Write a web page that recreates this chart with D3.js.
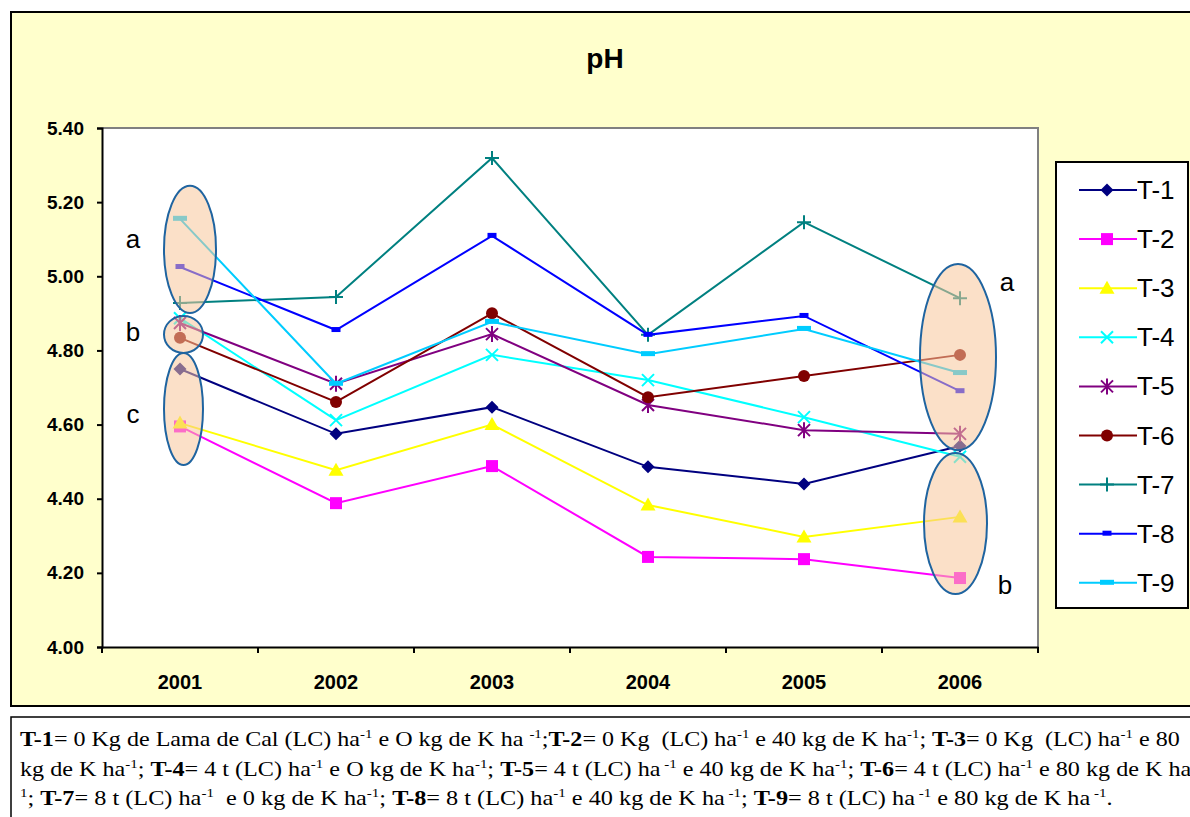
<!DOCTYPE html>
<html>
<head>
<meta charset="utf-8">
<script src="https://cdn.jsdelivr.net/npm/d3@7"></script>
<style>
  html, body { margin: 0; padding: 0; background: #ffffff; }
  svg { display: block; }
  text { white-space: pre; }
</style>
</head>
<body>
<svg id="chart" width="1190" height="817"></svg>
<script>
// Years on the category axis
const years = ["2001", "2002", "2003", "2004", "2005", "2006"];

// pH per treatment
const t1 = [4.75, 4.575, 4.647, 4.486, 4.44, 4.542];
const t2 = [4.595, 4.388, 4.488, 4.243, 4.237, 4.186];
const t3 = [4.604, 4.477, 4.60, 4.383, 4.297, 4.351];
const t4 = [4.887, 4.612, 4.788, 4.72, 4.62, 4.513];
const t5 = [4.874, 4.71, 4.844, 4.653, 4.585, 4.575];
const t6 = [4.834, 4.661, 4.90, 4.674, 4.731, 4.788];
const t7 = [4.928, 4.944, 5.319, 4.842, 5.146, 4.941];
const t8 = [5.025, 4.855, 5.109, 4.842, 4.893, 4.69];
const t9 = [5.155, 4.71, 4.877, 4.79, 4.858, 4.739];

const seriesNames = ["T-1", "T-2", "T-3", "T-4", "T-5", "T-6", "T-7", "T-8", "T-9"];
const yTicks = [4.0, 4.2, 4.4, 4.6, 4.8, 5.0, 5.2, 5.4];

// Grouping ellipses: year index, pH top, pH bottom, letter
const groupYear = [0, 0, 0, 5, 5];
const groupTop = [5.244, 4.893, 4.793, 5.033, 4.523];
const groupBottom = [4.901, 4.793, 4.491, 4.531, 4.143];
const groupLetter = ["a", "b", "c", "a", "b"];

// Caption lines: [style, text]; b = bold, s = superscript
const captionLines = [
  [["b","T-1"],["n","= 0 Kg de Lama de Cal (LC) ha"],["s","-1"],["n"," e O kg de K ha "],["s","-1"],["n",";"],["b","T-2"],["n","= 0 Kg  (LC) ha"],["s","-1"],["n"," e 40 kg de K ha"],["s","-1"],["n","; "],["b","T-3"],["n","= 0 Kg  (LC) ha"],["s","-1"],["n"," e 80"]],
  [["n","kg de K ha"],["s","-1"],["n","; "],["b","T-4"],["n","= 4 t (LC) ha"],["s","-1"],["n"," e O kg de K ha"],["s","-1"],["n","; "],["b","T-5"],["n","= 4 t (LC) ha"],["s"," -1"],["n"," e 40 kg de K ha"],["s","-1"],["n","; "],["b","T-6"],["n","= 4 t (LC) ha"],["s","-1"],["n"," e 80 kg de K ha"]],
  [["s","1"],["n","; "],["b","T-7"],["n","= 8 t (LC) ha"],["s","-1"],["n","  e 0 kg de K ha"],["s","-1"],["n","; "],["b","T-8"],["n","= 8 t (LC) ha"],["s","-1"],["n"," e 40 kg de K ha"],["s"," -1"],["n","; "],["b","T-9"],["n","= 8 t (LC) ha"],["s"," -1"],["n"," e 80 kg de K ha"],["s"," -1"],["n","."]]
];

const seriesValues = [t1, t2, t3, t4, t5, t6, t7, t8, t9];
const colors = ["#000080", "#FF00FF", "#FFFF00", "#00FFFF", "#800080", "#800000", "#008080", "#0000FF", "#00CCFF"];
const markerKinds = ["diamond", "square", "triangle", "x", "star", "circle", "plus", "dash", "wideDash"];

const svg = d3.select("#chart");
const sans = "'Liberation Sans', Arial, sans-serif";
const serif = "'Liberation Serif', 'Times New Roman', serif";

// Chart frame
svg.append("rect").attr("x", 11).attr("y", 12).attr("width", 1200).attr("height", 694)
  .attr("fill", "#FFFFCC").attr("stroke", "#000").attr("stroke-width", 2);

// Plot area
const plot = { left: 102, top: 128, right: 1038, bottom: 647 };
const x = d3.scaleBand().domain(years).range([plot.left, plot.right]).padding(0);
const y = d3.scaleLinear().domain([4.0, 5.4]).range([plot.bottom, plot.top]);
const cx = d => x(d) + x.bandwidth() / 2;

svg.append("rect").attr("x", plot.left).attr("y", plot.top)
  .attr("width", plot.right - plot.left).attr("height", plot.bottom - plot.top)
  .attr("fill", "#fff");
svg.append("path")
  .attr("d", `M${plot.left},${plot.top}H${plot.right}V${plot.bottom}`)
  .attr("fill", "none").attr("stroke", "#808080").attr("stroke-width", 2);

// Axes
const yAxis = d3.axisLeft(y).tickValues(yTicks).tickSize(5).tickFormat(d3.format(".2f"));
const gy = svg.append("g").attr("transform", `translate(${plot.left},0)`).call(yAxis);
gy.select(".domain").attr("stroke", "#000").attr("stroke-width", 2);
gy.selectAll(".tick line").attr("stroke", "#000").attr("stroke-width", 2);
gy.selectAll(".tick text").attr("x", -18).attr("font-family", sans).attr("font-size", 19)
  .attr("font-weight", "bold").attr("fill", "#000");

const xBoundaries = d3.range(years.length + 1).map(i => plot.left + i * x.bandwidth());
const xAxis = d3.axisBottom(x).tickSize(0).tickPadding(0);
const gx = svg.append("g").attr("transform", `translate(0,${plot.bottom})`).call(xAxis);
gx.select(".domain").attr("stroke", "#000").attr("stroke-width", 2);
gx.selectAll(".tick text").attr("y", 42).attr("dy", 0).attr("font-family", sans).attr("font-size", 20)
  .attr("font-weight", "bold").attr("fill", "#000");
gx.selectAll("line.bound").data(xBoundaries).join("line").attr("class", "bound")
  .attr("x1", d => d).attr("x2", d => d).attr("y1", 0).attr("y2", 6)
  .attr("stroke", "#000").attr("stroke-width", 2);

// Title
svg.append("text").attr("x", 605).attr("y", 68).attr("text-anchor", "middle")
  .attr("font-family", sans).attr("font-size", 28).attr("font-weight", "bold").text("pH");

// Marker drawing
function drawMarker(g, kind, color) {
  switch (kind) {
    case "diamond":
      g.append("path").attr("d", "M0,-6.5L6.5,0L0,6.5L-6.5,0Z").attr("fill", color); break;
    case "square":
      g.append("rect").attr("x", -6).attr("y", -6).attr("width", 12).attr("height", 12).attr("fill", color); break;
    case "triangle":
      g.append("path").attr("d", "M0,-7.5L7.5,5.5L-7.5,5.5Z").attr("fill", color); break;
    case "x":
      g.append("path").attr("d", "M-6,-6L6,6M-6,6L6,-6").attr("stroke", color).attr("stroke-width", 2).attr("fill", "none"); break;
    case "star":
      g.append("path").attr("d", "M-6,-6L6,6M-6,6L6,-6M0,-8L0,8").attr("stroke", color).attr("stroke-width", 2).attr("fill", "none"); break;
    case "circle":
      g.append("circle").attr("r", 6).attr("fill", color); break;
    case "plus":
      g.append("path").attr("d", "M-7,0L7,0M0,-7L0,7").attr("stroke", color).attr("stroke-width", 2).attr("fill", "none"); break;
    case "dash":
      g.append("rect").attr("x", -4.5).attr("y", -3).attr("width", 9).attr("height", 5).attr("fill", color); break;
    case "wideDash":
      g.append("rect").attr("x", -7).attr("y", -3).attr("width", 14).attr("height", 5).attr("fill", color); break;
  }
}

// Series lines and markers
const line = d3.line().x((d, i) => cx(years[i])).y(d => y(d));
seriesValues.forEach((vals, s) => {
  const g = svg.append("g").attr("class", "series");
  g.append("path").attr("d", line(vals)).attr("fill", "none")
    .attr("stroke", colors[s]).attr("stroke-width", 2);
  vals.forEach((v, i) => {
    const m = g.append("g").attr("transform", `translate(${cx(years[i])},${y(v)})`);
    drawMarker(m, markerKinds[s], colors[s]);
  });
});

// Grouping ellipses
const groupDx = [10, 3.5, 3.5, -2, -4.5];
const groupRx = [26, 19.5, 19.5, 38, 31.5];
groupYear.forEach((yi, k) => {
  const top = y(groupTop[k]), bottom = y(groupBottom[k]);
  svg.append("ellipse")
    .attr("cx", cx(years[yi]) + groupDx[k])
    .attr("cy", (top + bottom) / 2)
    .attr("rx", groupRx[k]).attr("ry", (bottom - top) / 2)
    .attr("fill", "#F8C79B").attr("fill-opacity", 0.55)
    .attr("stroke", "#1F64A0").attr("stroke-width", 2);
});

// Group letters
const letterX = [133, 133, 133, 1007, 1005];
const letterY = [248, 341, 423, 291, 594];
groupLetter.forEach((l, k) => {
  svg.append("text").attr("x", letterX[k]).attr("y", letterY[k]).attr("text-anchor", "middle")
    .attr("font-family", sans).attr("font-size", 26).attr("fill", "#000").text(l);
});

// Legend
const lg = svg.append("g");
lg.append("rect").attr("x", 1056).attr("y", 162).attr("width", 132).attr("height", 446)
  .attr("fill", "#fff").attr("stroke", "#000").attr("stroke-width", 2);
seriesNames.forEach((name, s) => {
  const ly = 190 + s * 49.1;
  lg.append("line").attr("x1", 1079).attr("x2", 1137).attr("y1", ly).attr("y2", ly)
    .attr("stroke", colors[s]).attr("stroke-width", 2);
  const m = lg.append("g").attr("transform", `translate(1107,${ly})`);
  drawMarker(m, markerKinds[s], colors[s]);
  lg.append("text").attr("x", 1137).attr("y", ly + 9).attr("font-family", sans)
    .attr("font-size", 26).attr("fill", "#000").text(name);
});

// Caption box
svg.append("rect").attr("x", 11).attr("y", 717).attr("width", 1200).attr("height", 120)
  .attr("fill", "#fff").attr("stroke", "#000").attr("stroke-width", 1.5);

const captionBase = [746, 776, 805];
const captionWidth = [1160, 1172, 1093];
captionLines.forEach((segs, li) => {
  const t = svg.append("text").attr("x", 0).attr("y", 0)
    .attr("font-family", serif).attr("font-size", 21).attr("fill", "#000");
  segs.forEach(([st, txt], j) => {
    const prevSup = j > 0 && segs[j - 1][0] === "s";
    const span = t.append("tspan").text(txt);
    if (st === "b") span.attr("font-weight", "bold");
    if (st === "s") {
      span.attr("font-size", 13).attr("dy", -8);
    } else if (prevSup) {
      span.attr("dy", 8);
    }
  });
  const w = t.node().getComputedTextLength();
  const sx = captionWidth[li] / w;
  t.attr("transform", `translate(20,${captionBase[li]}) scale(${sx},1)`);
});
</script>
</body>
</html>
